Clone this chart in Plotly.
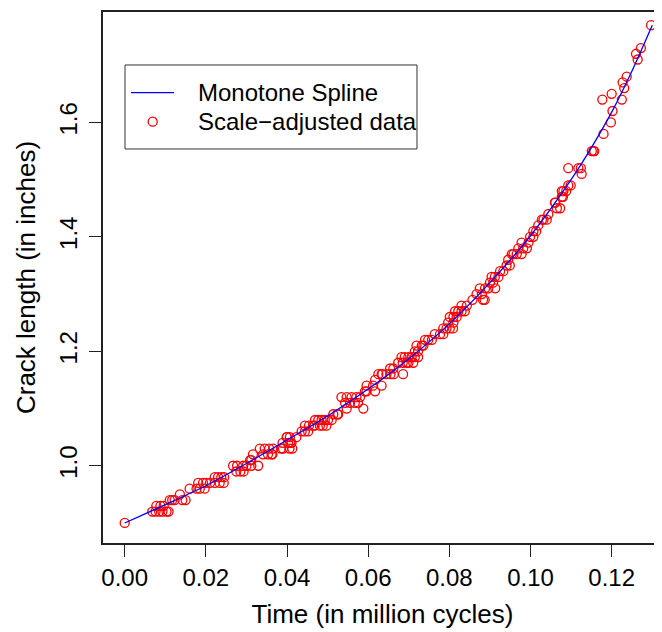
import plotly.graph_objects as go

# ---- data ----
y_levels = [0.90, 0.92, 0.93, 0.94, 0.95, 0.96, 0.97, 0.98, 0.99, 1.00,
            1.01, 1.02, 1.03, 1.04, 1.05, 1.06, 1.07, 1.08, 1.09, 1.10,
            1.11, 1.12, 1.13, 1.14, 1.15, 1.16, 1.17, 1.18, 1.19, 1.20,
            1.21, 1.22, 1.23, 1.24, 1.25, 1.26, 1.27, 1.28, 1.29, 1.30,
            1.31, 1.32, 1.33, 1.34, 1.35, 1.36, 1.37, 1.38, 1.39, 1.40,
            1.41, 1.42, 1.43, 1.44, 1.45, 1.46, 1.47, 1.48, 1.49, 1.51,
            1.52, 1.55, 1.58, 1.60, 1.62, 1.64, 1.65, 1.66, 1.67, 1.68,
            1.71, 1.72, 1.73, 1.77]
times_at_level = [
    [0.0000],
    [0.0068, 0.0076, 0.0085, 0.0093, 0.0103, 0.0108],
    [0.0078, 0.0088, 0.0096],
    [0.0111, 0.0117, 0.0123, 0.0142, 0.0150],
    [0.0136],
    [0.0160, 0.0177, 0.0185, 0.0197],
    [0.0181, 0.0193, 0.0201, 0.0210, 0.0222, 0.0234, 0.0244],
    [0.0222, 0.0230, 0.0238, 0.0245],
    [0.0275, 0.0285, 0.0293],
    [0.0267, 0.0277, 0.0292, 0.0300, 0.0312, 0.0329],
    [0.0309, 0.0312],
    [0.0316, 0.0341, 0.0353, 0.0362, 0.0364],
    [0.0333, 0.0345, 0.0356, 0.0366, 0.0385, 0.0390, 0.0406, 0.0413],
    [0.0389, 0.0403, 0.0408, 0.0411],
    [0.0399, 0.0400, 0.0407, 0.0423],
    [0.0436, 0.0444, 0.0452],
    [0.0444, 0.0454, 0.0464, 0.0468, 0.0481, 0.0488, 0.0497],
    [0.0469, 0.0477, 0.0485, 0.0493, 0.0501, 0.0510],
    [0.0514, 0.0524, 0.0526],
    [0.0547, 0.0588],
    [0.0543, 0.0555, 0.0567, 0.0575],
    [0.0534, 0.0547, 0.0559, 0.0571, 0.0580],
    [0.0592, 0.0596, 0.0617],
    [0.0596, 0.0612, 0.0633],
    [0.0617],
    [0.0625, 0.0633, 0.0635, 0.0645, 0.0655, 0.0663, 0.0686],
    [0.0654, 0.0662],
    [0.0674, 0.0685, 0.0695, 0.0699, 0.0711],
    [0.0682, 0.0690, 0.0699, 0.0707, 0.0715, 0.0723],
    [0.0715, 0.0723],
    [0.0719, 0.0732, 0.0736],
    [0.0740, 0.0748, 0.0757],
    [0.0764, 0.0777, 0.0785],
    [0.0785, 0.0793, 0.0801, 0.0809],
    [0.0797, 0.0810],
    [0.0801, 0.0810, 0.0818],
    [0.0814, 0.0822, 0.0830, 0.0838],
    [0.0830, 0.0843],
    [0.0857, 0.0883, 0.0887],
    [0.0867, 0.0880],
    [0.0875, 0.0888, 0.0896, 0.0913],
    [0.0900, 0.0908],
    [0.0904, 0.0912, 0.0921],
    [0.0925, 0.0933],
    [0.0941, 0.0949],
    [0.0945],
    [0.0954, 0.0958, 0.0966, 0.0978],
    [0.0970, 0.0982, 0.0991],
    [0.0978, 0.0995],
    [0.0999, 0.1007],
    [0.1007, 0.1014],
    [0.1019],
    [0.1028, 0.1032, 0.1040],
    [0.1044],
    [0.1065, 0.1073],
    [0.1060, 0.1061],
    [0.1077, 0.1080],
    [0.1077, 0.1081, 0.1088],
    [0.1093, 0.1099],
    [0.1126],
    [0.1093, 0.1118, 0.1124],
    [0.1151, 0.1155, 0.1157],
    [0.1180],
    [0.1198],
    [0.1202],
    [0.1177, 0.1225],
    [0.1200],
    [0.1231],
    [0.1227],
    [0.1237],
    [0.1264],
    [0.1260],
    [0.1272],
    [0.1297],
]

spline_time = [0.000, 0.005, 0.010, 0.020, 0.030, 0.040, 0.050, 0.060, 0.070,
               0.080, 0.090, 0.100, 0.110, 0.115, 0.120, 0.125, 0.130]
spline_length = [0.900, 0.916, 0.932, 0.965, 1.004, 1.045, 1.087, 1.134, 1.187,
                 1.248, 1.320, 1.402, 1.500, 1.556, 1.618, 1.690, 1.770]

x_ticks = [0.00, 0.02, 0.04, 0.06, 0.08, 0.10, 0.12]
y_ticks = [1.0, 1.2, 1.4, 1.6]

legend_labels = ["Monotone Spline", "Scale\u2212adjusted data"]

# flatten the data
data_time, data_length = [], []
for lvl, ts in zip(y_levels, times_at_level):
    for t in ts:
        data_time.append(t)
        data_length.append(lvl)

FONT = "Liberation Sans, Arial, Helvetica, sans-serif"
RED = "#FF0000"
BLUE = "#0000FF"

fig = go.Figure()
fig.add_trace(go.Scatter(
    x=data_time, y=data_length, mode="markers", name=legend_labels[1],
    marker=dict(symbol="circle-open", size=9, color=RED,
                line=dict(width=1.3, color=RED)),
    showlegend=False,
))
fig.add_trace(go.Scatter(
    x=spline_time, y=spline_length, mode="lines", name=legend_labels[0],
    line=dict(color=BLUE, width=1.3, shape="spline", smoothing=0.8),
    showlegend=False,
))

# ---- R-style legend box (paper coordinates) ----
box_x0, box_x1, box_y0, box_y1 = 0.0394, 0.5617, 0.7420, 0.9002
row1_y, row2_y = 0.8480, 0.7934
fig.add_shape(type="rect", xref="paper", yref="paper",
              x0=box_x0, x1=box_x1, y0=box_y0, y1=box_y1,
              line=dict(color="#333333", width=1), fillcolor="white", layer="above")
fig.add_shape(type="line", xref="paper", yref="paper",
              x0=0.0501, x1=0.1270, y0=row1_y, y1=row1_y,
              line=dict(color=BLUE, width=1.3), layer="above")
fig.add_shape(type="circle", xref="paper", yref="paper",
              x0=0.0889 - 0.0081, x1=0.0889 + 0.0081,
              y0=row2_y - 0.0085, y1=row2_y + 0.0085,
              line=dict(color=RED, width=1.3), layer="above")
for lab, yy in zip(legend_labels, [row1_y, row2_y]):
    fig.add_annotation(text=lab, xref="paper", yref="paper", x=0.1664, y=yy,
                       xanchor="left", yanchor="middle", showarrow=False,
                       font=dict(family=FONT, size=24, color="black"))

# the page body adds an 8 px offset; figure sized to fit the 662x632 window
fig.update_layout(
    width=654, height=624,
    margin=dict(l=95, r=0, t=4, b=89),
    paper_bgcolor="white", plot_bgcolor="white",
    font=dict(family=FONT, size=24, color="black"),
    showlegend=False,
)
fig.update_xaxes(
    range=[-0.00535, 0.1324], tickvals=x_ticks,
    ticktext=[f"{v:.2f}" for v in x_ticks],
    showgrid=False, zeroline=False, automargin=False,
    showline=True, mirror=True, linecolor="#222222", linewidth=1.5,
    ticks="outside", ticklen=12, tickwidth=1.3, tickcolor="#222222",
    ticklabelstandoff=0,
    tickfont=dict(family=FONT, size=24, color="black"),
    title=dict(text="Time (in million cycles)", standoff=15,
               font=dict(family=FONT, size=26, color="black")),
)
fig.update_yaxes(
    range=[0.865, 1.793], tickvals=y_ticks,
    ticktext=[f"{v:.1f}" for v in y_ticks],
    showgrid=False, zeroline=False, automargin=False,
    showline=True, mirror=False, linecolor="#222222", linewidth=1.5,
    ticks="outside", ticklen=12, tickwidth=1.3, tickcolor="#222222",
    ticklabelstandoff=3,
    tickangle=-90,
    tickfont=dict(family=FONT, size=24, color="black"),
    title=dict(text="Crack length (in inches)", standoff=12,
               font=dict(family=FONT, size=26, color="black")),
)

fig.write_html("out.html")
